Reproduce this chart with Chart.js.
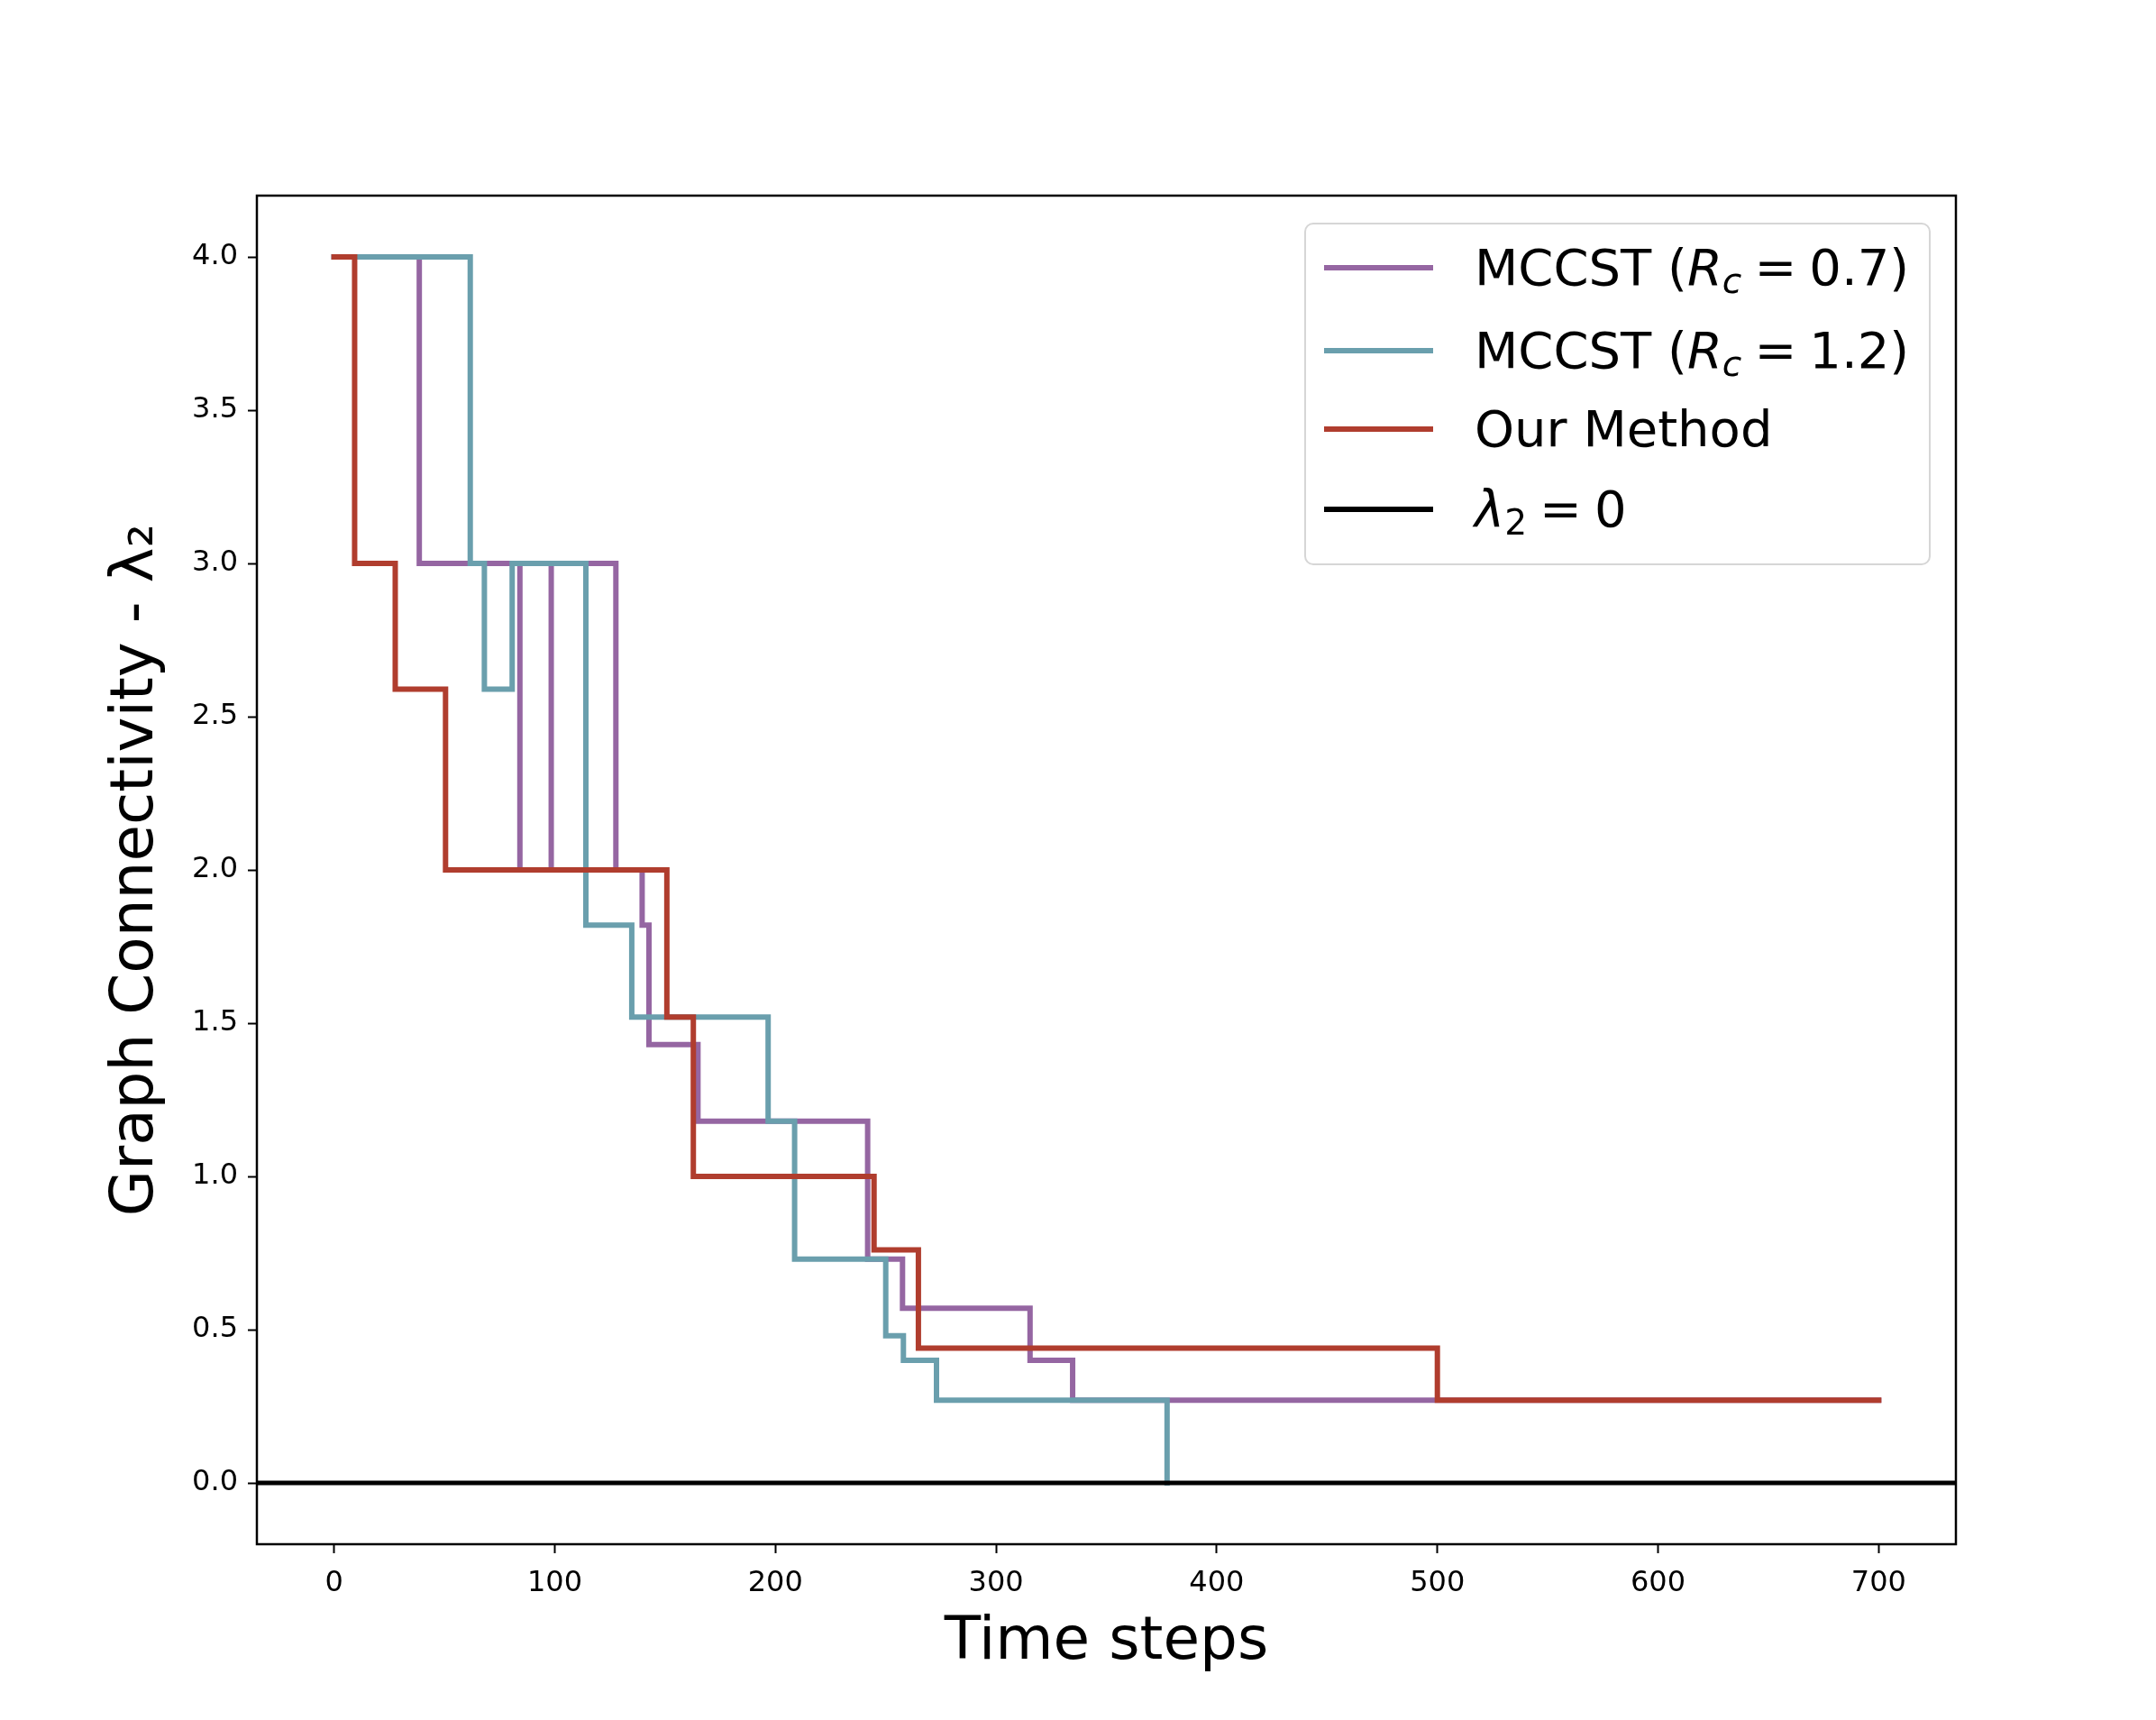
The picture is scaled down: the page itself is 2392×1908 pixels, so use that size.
<!DOCTYPE html>
<html lang="en">
<head>
<meta charset="utf-8">
<style>
    body { margin: 0; background: #ffffff; }
    #wrap { position: relative; width: 2392px; height: 1908px; }
    #legendBox {
        position: absolute; left: 1447px; top: 247px; width: 695px; height: 380px;
        border: 2px solid #d6d6d6; border-radius: 10px; box-sizing: border-box;
        background: rgba(255, 255, 255, 0.8);
        font-family: "DejaVu Sans"; font-size: 56px; color: #000;
    }
    .row { position: absolute; left: 0; width: 100%; height: 0; }
    .row .swatch { position: absolute; left: 20px; width: 121px; top: -3px; height: 6px; }
    .row .txt { position: absolute; left: 187px; top: 0; transform: translateY(-50%); line-height: 1; white-space: nowrap; }
    .txt i { font-style: italic; }
    .txt sub { font-size: 0.7em; font-style: italic; vertical-align: -0.22em; line-height: 0; }
    .txt .eq { margin: 0 0.25em; }
</style>
</head>

<body>
    <div id="wrap">
        <canvas id="myChart" width="2392" height="1908"></canvas>
        <div id="legendBox"></div>
    </div>

    <script src="https://cdn.jsdelivr.net/npm/chart.js@4.4.1/dist/chart.umd.min.js"></script>

    <script>
        // step change points (time step, new lambda2 value)
        var timePurple = [0, 38.6, 84.2, 98.4, 127.7, 139.6, 142.7, 164.9, 241.8, 257.6, 315.4, 334.7, 700];
        var lambdaPurple = [4.0, 3.0, 2.0, 3.0, 2.0, 1.82, 1.43, 1.18, 0.73, 0.57, 0.40, 0.27, 0.27];

        var timeTeal = [0, 61.7, 68.1, 80.7, 114.1, 134.9, 196.7, 208.7, 250, 258, 273, 377.5];
        var lambdaTeal = [4.0, 3.0, 2.59, 3.0, 1.82, 1.52, 1.18, 0.73, 0.48, 0.40, 0.27, 0.0];

        var timeOurs = [0, 9.3, 27.7, 50.5, 150.8, 162.8, 244.7, 264.8, 500, 700];
        var lambdaOurs = [4.0, 3.0, 2.59, 2.0, 1.52, 1.0, 0.76, 0.44, 0.27, 0.27];

        var xMin = -35, xMax = 735;
        var yMin = -0.2, yMax = 4.2;
        var xTicks = [0, 100, 200, 300, 400, 500, 600, 700];
        var yTicks = [0, 0.5, 1.0, 1.5, 2.0, 2.5, 3.0, 3.5, 4.0];
        var zeroLevel = 0;

        var seriesLabels = ['MCCST (Rc = 0.7)', 'MCCST (Rc = 1.2)', 'Our Method', 'λ2 = 0'];
        var legendHtml = [
            'MCCST (<i>R</i><sub>c</sub><span class="eq">=</span>0.7)',
            'MCCST (<i>R</i><sub>c</sub><span class="eq">=</span>1.2)',
            'Our Method',
            '<i>λ</i><sub style="font-style:normal">2</sub><span class="eq">=</span>0'
        ];
        var seriesColors = ['#9566a2', '#6a9fad', '#b03d2e', '#000000'];
        var legendRowY = [48, 140, 227, 316];

        function toPoints(xs, ys) {
            return xs.map(function (x, i) { return { x: x, y: ys[i] }; });
        }

        function stepSet(label, color, pts, order, width) {
            return {
                label: label,
                data: pts,
                borderColor: color,
                backgroundColor: color,
                borderWidth: width,
                stepped: true,
                pointRadius: 0,
                fill: false,
                borderJoinStyle: 'miter',
                borderCapStyle: 'square',
                order: order
            };
        }

        var framePlugin = {
            id: 'frame',
            afterDraw: function (chart) {
                var a = chart.chartArea, ctx = chart.ctx;
                ctx.save();
                ctx.strokeStyle = '#000';
                ctx.lineWidth = 2.5;
                ctx.strokeRect(a.left, a.top, a.right - a.left, a.bottom - a.top);
                ctx.restore();
            }
        };

        var tickFont = { family: 'DejaVu Sans', size: 32 };
        var titleFont = { family: 'DejaVu Sans', size: 66 };

        var ctx = document.getElementById('myChart').getContext('2d');
        var lineChart = new Chart(ctx, {
            type: 'line',
            data: {
                datasets: [
                    stepSet(seriesLabels[0], seriesColors[0], toPoints(timePurple, lambdaPurple), 4, 6),
                    stepSet(seriesLabels[1], seriesColors[1], toPoints(timeTeal, lambdaTeal), 3, 6),
                    stepSet(seriesLabels[2], seriesColors[2], toPoints(timeOurs, lambdaOurs), 2, 6),
                    stepSet(seriesLabels[3], seriesColors[3], toPoints([xMin, xMax], [zeroLevel, zeroLevel]), 1, 5)
                ]
            },
            options: {
                responsive: false,
                devicePixelRatio: 1,
                animation: false,
                layout: { padding: { top: 217, right: 222, left: 0, bottom: 0 } },
                plugins: { legend: { display: false }, tooltip: { enabled: false } },
                scales: {
                    x: {
                        type: 'linear',
                        min: xMin,
                        max: xMax,
                        afterBuildTicks: function (scale) {
                            scale.ticks = xTicks.map(function (v) { return { value: v }; });
                        },
                        afterFit: function (scale) { scale.height = 195; },
                        grid: { display: true, drawOnChartArea: false, drawTicks: true, tickLength: 10, tickColor: '#000', tickWidth: 2 },
                        border: { display: false },
                        ticks: { color: '#000', font: tickFont, padding: 14, maxRotation: 0 },
                        title: { display: true, text: 'Time steps', color: '#000', font: titleFont, padding: { top: 0, bottom: 46 } }
                    },
                    y: {
                        type: 'linear',
                        min: yMin,
                        max: yMax,
                        afterBuildTicks: function (scale) {
                            scale.ticks = yTicks.map(function (v) { return { value: v }; });
                        },
                        afterFit: function (scale) { scale.width = 285; },
                        grid: { display: true, drawOnChartArea: false, drawTicks: true, tickLength: 10, tickColor: '#000', tickWidth: 2 },
                        border: { display: false },
                        ticks: {
                            color: '#000', font: tickFont, padding: 11,
                            callback: function (v) { return Number(v).toFixed(1); }
                        },
                        title: { display: true, text: 'Graph Connectivity - λ₂', color: '#000', font: titleFont, padding: { top: 112, bottom: 0 } }
                    }
                }
            },
            plugins: [framePlugin]
        });

        // legend drawn as html so the math labels keep italics and subscripts
        var box = document.getElementById('legendBox');
        for (var i = 0; i < legendHtml.length; i++) {
            var row = document.createElement('div');
            row.className = 'row';
            row.style.top = legendRowY[i] + 'px';
            row.innerHTML = '<div class="swatch" style="background:' + lineChart.data.datasets[i].borderColor + '"></div>' +
                '<div class="txt">' + legendHtml[i] + '</div>';
            box.appendChild(row);
        }
    </script>
</body>
</html>
